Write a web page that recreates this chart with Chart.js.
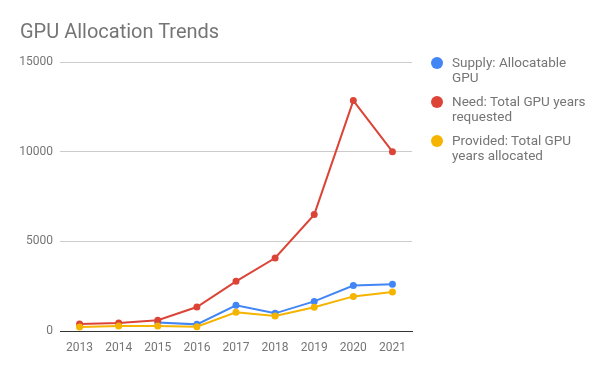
<!DOCTYPE html>
<html>
<head>
<meta charset="utf-8">
<script src="https://cdn.jsdelivr.net/npm/chart.js@4"></script>
<style>
  body { margin: 0; background: #fff; font-family: Roboto, sans-serif; }
  #wrap { position: relative; width: 600px; height: 371px; }
  #title { position: absolute; left: 20px; top: 19px; font-size: 20px; color: #757575; }
  #legend { position: absolute; left: 431px; top: 55px; width: 162px; }
  .item { position: relative; padding-left: 21px; font-size: 13.5px; line-height: 15px; color: #757575; margin-bottom: 9px; }
  .dot { position: absolute; left: 0; top: 2px; width: 12px; height: 12px; border-radius: 50%; }
</style>
</head>
<body>
<div id="wrap">
  <canvas id="chart" width="600" height="371"></canvas>
  <div id="title">GPU Allocation Trends</div>
  <div id="legend"></div>
</div>
<script>
// --- Datos ---
const years = ['2013', '2014', '2015', '2016', '2017', '2018', '2019', '2020', '2021'];
const supply = [null, null, 480, 370, 1430, 985, 1650, 2540, 2600];
const need = [390, 440, 600, 1340, 2770, 4070, 6490, 12850, 10000];
const provided = [220, 280, 280, 240, 1040, 835, 1320, 1930, 2170];
const yTicks = [0, 5000, 10000, 15000];

const seriesLabels = ['Supply: Allocatable GPU', 'Need: Total GPU years requested', 'Provided: Total GPU years allocated'];
const seriesColors = ['#4285F4', '#DB4437', '#F4B400'];

function makeDataset(i, values, order) {
    return {
        label: seriesLabels[i],
        data: values,
        borderColor: seriesColors[i],
        backgroundColor: seriesColors[i],
        borderWidth: 2,
        pointRadius: 2.5,
        pointHoverRadius: 3,
        tension: 0,
        spanGaps: false,
        order: order
    };
}

// leyenda en HTML (el texto va en dos lineas como en el original)
const legend = document.getElementById('legend');
seriesLabels.forEach((label, i) => {
    const div = document.createElement('div');
    div.className = 'item';
    div.innerHTML = '<span class="dot" style="background:' + seriesColors[i] + '"></span>' + label;
    legend.appendChild(div);
});

new Chart(document.getElementById('chart'), {
    type: 'line',
    data: {
        labels: years,
        datasets: [
            makeDataset(0, supply, 2),
            makeDataset(1, need, 1),
            makeDataset(2, provided, 0)
        ]
    },
    options: {
        responsive: false,
        animation: false,
        layout: { padding: { top: 62, right: 188, left: 0, bottom: 0 } },
        plugins: { legend: { display: false }, title: { display: false }, tooltip: { enabled: false } },
        scales: {
            x: {
                offset: true,
                grid: { display: false },
                border: { display: true, color: '#333333', width: 1 },
                ticks: { color: '#757575', font: { family: 'Roboto', size: 12 }, padding: 2, maxRotation: 0 },
                afterFit: (scale) => { scale.height = 40; }
            },
            y: {
                min: 0,
                max: 15000,
                afterBuildTicks: (scale) => { scale.ticks = yTicks.map(v => ({ value: v })); },
                grid: { color: '#cccccc', drawTicks: false },
                border: { display: false },
                ticks: {
                    color: '#757575',
                    font: { family: 'Roboto', size: 12 },
                    padding: 7,
                    callback: (v) => String(v)
                },
                afterFit: (scale) => { scale.width = 60; }
            }
        }
    }
});
</script>
</body>
</html>
